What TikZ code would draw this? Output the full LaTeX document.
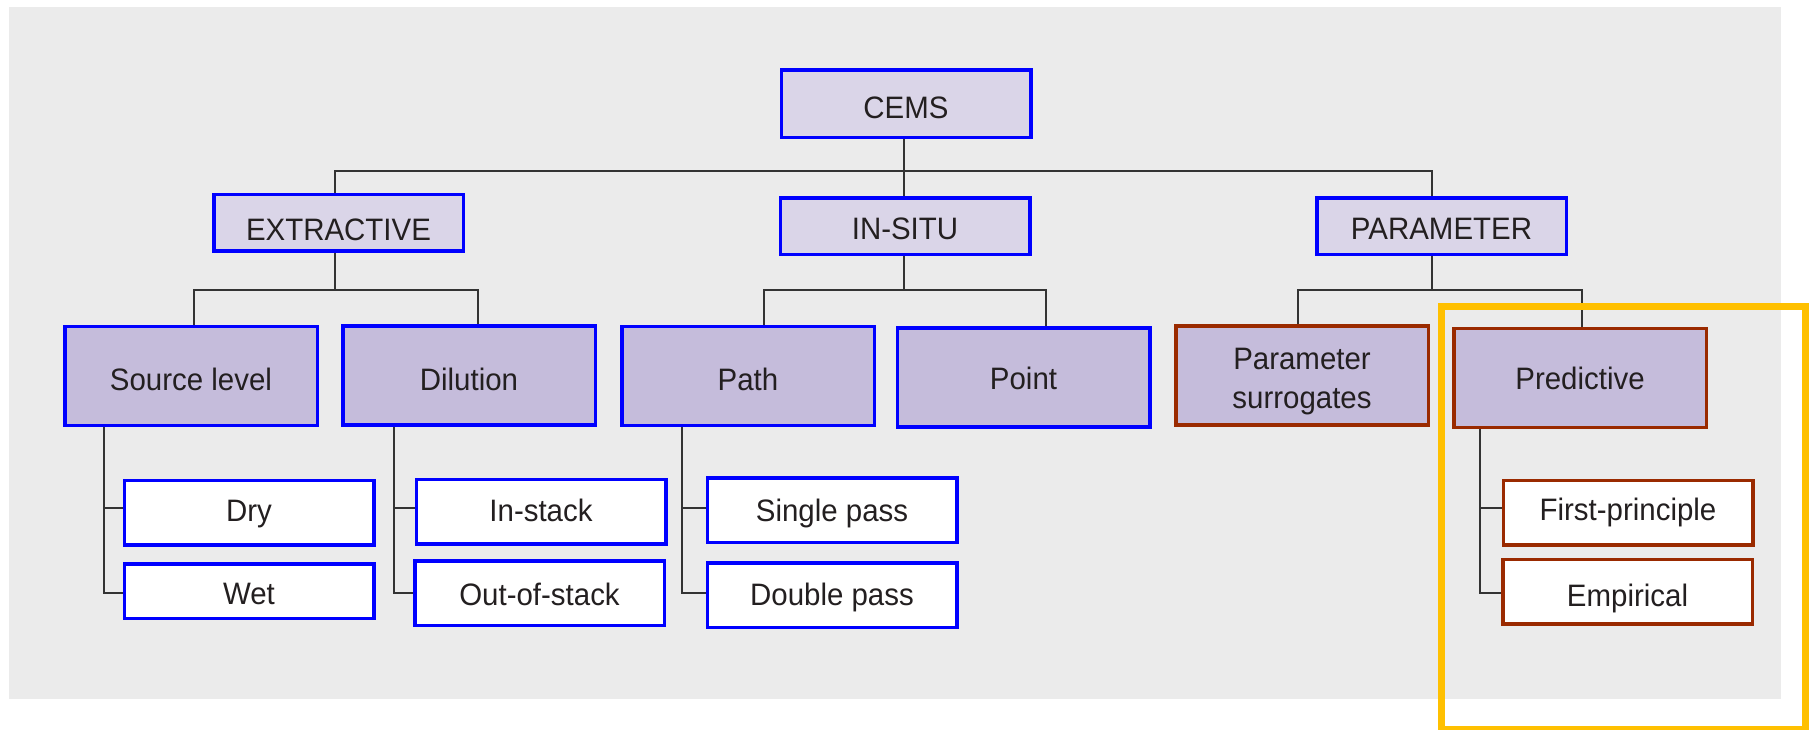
\documentclass[tikz,border=0pt]{standalone}
\usepackage{fontspec}
\setmainfont{Liberation Sans}[FakeStretch=0.95]
\definecolor{bggray}{HTML}{EBEBEB}
\definecolor{lavlight}{HTML}{DAD5E8}
\definecolor{lavmid}{HTML}{C5BCDB}
\definecolor{blueline}{HTML}{0000FF}
\definecolor{brownline}{HTML}{9A2A00}
\definecolor{linkgray}{HTML}{333333}
\definecolor{txt}{HTML}{231F20}
\definecolor{hilite}{HTML}{FFC000}
\tikzset{
  box/.style={draw, line width=3.5pt, inner sep=0pt, align=center,
    font=\fontsize{31}{39}\selectfont, text=txt},
  oneline/.style={text height=22pt, text depth=0pt},
  topbox/.style={box, oneline, draw=blueline, fill=lavlight,
    minimum width=249.5pt, minimum height=56.5pt},
  midbox/.style={box, oneline, draw=blueline, fill=lavmid,
    minimum width=252.5pt, minimum height=99pt},
  midboxr/.style={box, draw=brownline, fill=lavmid,
    minimum width=252.5pt, minimum height=99pt},
  leafbox/.style={box, oneline, draw=blueline, fill=white,
    minimum width=249.5pt, minimum height=64.5pt},
  leafboxr/.style={leafbox, draw=brownline},
  link/.style={draw=linkgray, line width=2pt},
  frame/.style={draw=hilite, line width=7.5pt}
}
\begin{document}
\begin{tikzpicture}[x=1pt,y=-1pt]
\useasboundingbox (0,0) rectangle (1810,729);
\fill[white] (0,0) rectangle (1810,729);
\fill[bggray] (9,7) rectangle (1781,699);

% bus coordinates of the tree
\coordinate (topbar) at (904,170.7);
\coordinate (xE) at (335,0);
\coordinate (xP) at (1432,0);
\coordinate (e2) at (335,290);
\coordinate (eL) at (194,290);
\coordinate (eR) at (478,290);
\coordinate (i2) at (904,290);
\coordinate (iL) at (764,290);
\coordinate (iR) at (1046,290);
\coordinate (p2) at (1432,290);
\coordinate (pL) at (1298,290);
\coordinate (pR) at (1582,290);
\coordinate (sT) at (104,0);
\coordinate (dT) at (394,0);
\coordinate (paT) at (682,0);
\coordinate (prT) at (1479.5,0);

% root
\node[topbox, minimum height=67.5pt, text height=29.6pt] (CEMS) at (906,103.5) {CEMS};

% first level
\node[topbox, text height=35pt]   (EXTR)   at (338.5,222.5) {EXTRACTIVE};
\node[topbox, text height=26.6pt] (INSITU) at (905,226)     {IN-SITU};
\node[topbox, text height=26.6pt] (PARAM)  at (1441.5,226)  {PARAMETER};

% second level
\node[midbox, text height=28pt]   (SL)    at (191,376)      {Source level};
\node[midbox, text height=29pt]   (DIL)   at (469,375.5)    {Dilution};
\node[midbox, text height=28pt]   (PATH)  at (748,376)      {Path};
\node[midbox, text height=23.6pt] (POINT) at (1023.5,377.5) {Point};
\node[midboxr, text height=66pt, text depth=0pt] (SURR) at (1302,375.5) {Parameter\\surrogates};
\node[midboxr, oneline, text height=22.6pt] (PRED) at (1580,378) {Predictive};

% third level
\node[leafbox, text height=18.4pt] (DRY) at (249,512.5) {Dry};
\node[leafbox, minimum height=54.5pt, text height=26.6pt] (WET) at (249,591) {Wet};
\node[leafbox, text height=20.4pt]  (INST)   at (541,511.5)    {In-stack};
\node[leafbox, text height=24pt]    (OUTST)  at (539.5,593)    {Out-of-stack};
\node[leafbox, text height=22.8pt]  (SINGLE) at (832,510.3)    {Single pass};
\node[leafbox, text height=20.8pt]  (DOUBLE) at (832,595.3)    {Double pass};
\node[leafboxr, text height=16.4pt] (FIRST)  at (1628,512.5)   {First-principle};
\node[leafboxr, text height=28.6pt] (EMP)    at (1627.5,591.7) {Empirical};

% root to first level
\draw[link] (CEMS.south -| topbar) -- (INSITU.north -| topbar);
\draw[link] (EXTR.north -| xE) -- (xE |- topbar) -- (xP |- topbar) -- (PARAM.north -| xP);

% first to second level
\draw[link] (EXTR.south -| e2) -- (e2);
\draw[link] (SL.north -| eL) -- (eL) -- (eR) -- (DIL.north -| eR);
\draw[link] (INSITU.south -| i2) -- (i2);
\draw[link] (PATH.north -| iL) -- (iL) -- (iR) -- (POINT.north -| iR);
\draw[link] (PARAM.south -| p2) -- (p2);
\draw[link] (SURR.north -| pL) -- (pL) -- (pR) -- (PRED.north -| pR);

% second to third level
\draw[link] (SL.south -| sT) |- ([yshift=-2pt]WET.west);
\draw[link] ([yshift=4.5pt]DRY.west) -- ([yshift=4.5pt]DRY.west -| sT);
\draw[link] (DIL.south -| dT) |- (OUTST.west);
\draw[link] ([yshift=3.5pt]INST.west) -- ([yshift=3.5pt]INST.west -| dT);
\draw[link] (PATH.south -| paT) |- ([yshift=2.6pt]DOUBLE.west);
\draw[link] ([yshift=2pt]SINGLE.west) -- ([yshift=2pt]SINGLE.west -| paT);
\draw[link] (PRED.south -| prT) |- ([yshift=-1pt]EMP.west);
\draw[link] ([yshift=4.2pt]FIRST.west) -- ([yshift=4.2pt]FIRST.west -| prT);

% highlight frame around the predictive branch
\draw[frame] (1441.5,306.5) rectangle (1805.5,729.5);
\end{tikzpicture}
\end{document}
